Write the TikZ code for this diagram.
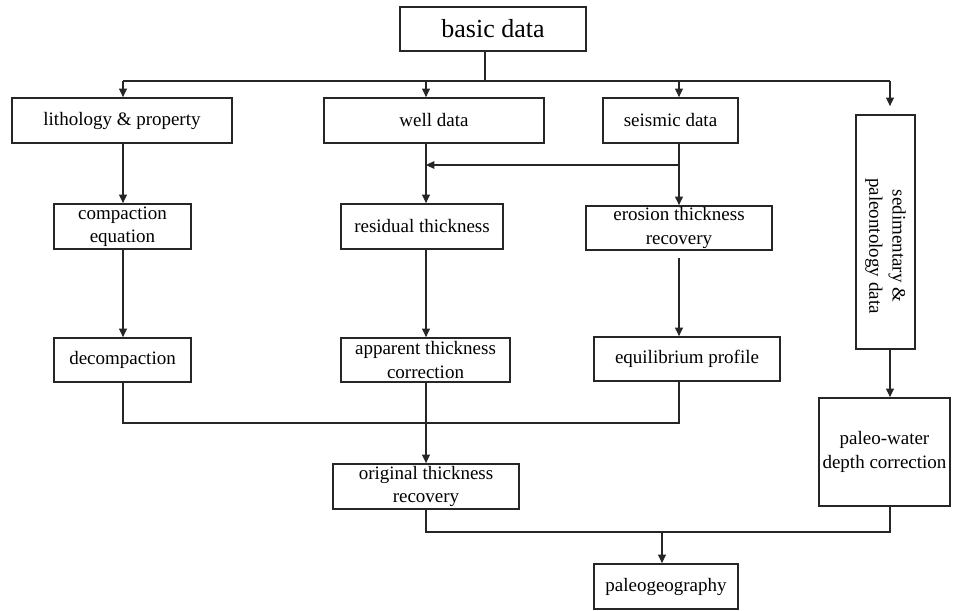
\documentclass[tikz,border=0pt]{standalone}
\usepackage{fontspec}
\setmainfont{Liberation Serif}
\usepackage{tikz}
\usetikzlibrary{arrows.meta, positioning}

\begin{document}
\begin{tikzpicture}[x=0.025cm, y=-0.025cm]
	
	% --- STYLES ---
	\tikzstyle{box} = [rectangle, draw=black!85, line width=1.2pt, align=center, inner sep=1pt, font=\fontsize{13.5}{16.5}\selectfont]
	\tikzstyle{headbox} = [box, font=\fontsize{18.5}{22}\selectfont]
	\tikzstyle{line} = [draw=black!85, line width=0.8pt]
	\tikzstyle{arrow} = [line, ->, >={Triangle[length=6pt,width=5.5pt]}]
	
	\useasboundingbox (0,0) rectangle (960,611);
	
	% --- NODES ---
	
	% 1. Source
	\node (basic) [headbox, minimum width=4.65cm, minimum height=1.1cm] at (493,29) {basic data};
	
	% 2. Input data row
	\node (litho) [box, minimum width=5.5cm, minimum height=1.125cm] at (122,120.5) {lithology \& property};
	\node (well) [box, minimum width=5.5cm, minimum height=1.125cm] at (434,120.5) {well data};
	\node (seismic) [box, minimum width=3.375cm, minimum height=1.125cm] at (670.5,120.5) {seismic data};
	\node (sed) [box, rotate=-90, minimum width=5.85cm, minimum height=1.475cm] at (885.5,232) {\hspace*{0.7cm}sedimentary \&\\\hspace*{0.7cm}paleontology data};
	
	% 3. First processing row
	\node (compaction) [box, minimum width=3.425cm, minimum height=1.125cm] at (122.5,226.5) {compaction\\equation};
	\node (residual) [box, minimum width=4.05cm, minimum height=1.125cm] at (422,226.5) {residual thickness};
	\node (erosion) [box, minimum width=4.65cm, minimum height=1.1cm] at (679,228) {erosion thickness\\recovery};
	
	% 4. Second processing row
	\node (decompaction) [box, minimum width=3.425cm, minimum height=1.1cm] at (122.5,360) {decompaction};
	\node (apparent) [box, minimum width=4.225cm, minimum height=1.1cm] at (425.5,360) {apparent thickness\\correction};
	\node (equilibrium) [box, minimum width=4.65cm, minimum height=1.1cm] at (687,359) {equilibrium profile};
	\node (paleowater) [box, minimum width=3.275cm, minimum height=2.7cm] at (884.5,452) {paleo-water\\depth correction};
	
	% 5. Results
	\node (original) [box, minimum width=4.65cm, minimum height=1.125cm] at (426,486.5) {original thickness\\recovery};
	\node (paleogeo) [box, minimum width=3.6cm, minimum height=1.125cm] at (666,586.5) {paleogeography};
	
	% --- ARROWS ---
	\coordinate (colA) at (123,0);
	\coordinate (colB) at (426,0);
	\coordinate (colC) at (679,0);
	\coordinate (colD) at (890,0);
	\coordinate (bus) at (485,81);
	\coordinate (split) at (679,165);
	\coordinate (merge) at (0,423);
	\coordinate (join) at (662,532);
	
	% Distribution bus
	\draw [line] (basic.south -| bus) -- (bus);
	\draw [line] (bus -| colA) -- (bus -| colD);
	\draw [arrow] (bus -| colA) -- (litho.north -| colA);
	\draw [arrow] (bus -| colB) -- (well.north -| colB);
	\draw [arrow] (bus -| colC) -- (seismic.north -| colC);
	\draw [arrow, shorten >=0.2cm] (bus -| colD) -- (sed.west -| colD);
	
	% Columns
	\draw [arrow] (litho.south -| colA) -- (compaction.north -| colA);
	\draw [arrow] (compaction.south -| colA) -- (decompaction.north -| colA);
	\draw [arrow] (well.south -| colB) -- (residual.north -| colB);
	\draw [arrow] (residual.south -| colB) -- (apparent.north -| colB);
	\draw [arrow] (seismic.south -| colC) -- (erosion.north -| colC);
	\draw [arrow] (split) -- (split -| colB);
	\draw [arrow, shorten <=0.175cm] (erosion.south -| colC) -- (equilibrium.north -| colC);
	\draw [arrow] (sed.east -| colD) -- (paleowater.north -| colD);
	
	% Merging
	\draw [line] (decompaction.south -| colA) -- (merge -| colA) -- (merge -| colC) -- (equilibrium.south -| colC);
	\draw [arrow] (apparent.south -| colB) -- (original.north -| colB);
	\draw [line] (original.south -| colB) -- (join -| colB) -- (join -| colD) -- (paleowater.south -| colD);
	\draw [arrow] (join) -- (paleogeo.north -| join);
	
\end{tikzpicture}
\end{document}
